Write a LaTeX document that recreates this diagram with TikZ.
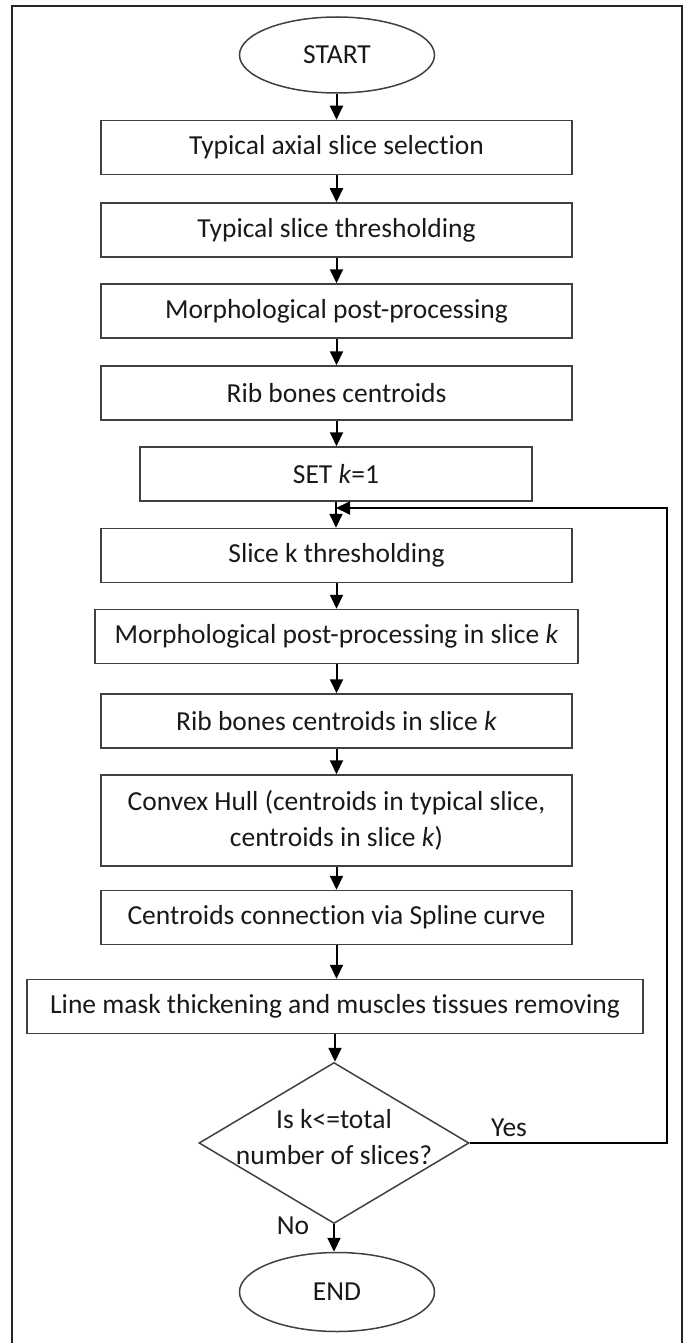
\documentclass[tikz,border=0pt]{standalone}
\usepackage{fontspec}
\setmainfont[RawFeature=-liga]{Carlito}
\usetikzlibrary{arrows.meta,shapes.geometric}
\begin{document}
\begin{tikzpicture}[x=1pt,y=-1pt,
  every node/.style={font=\fontsize{27.5}{36}\selectfont, text=black!90, align=center},
  proc/.style={draw=black!75, line width=1.5pt, rectangle, minimum height=54pt, inner sep=0pt},
  term/.style={draw=black!75, line width=1.5pt, ellipse, minimum width=195pt, minimum height=76pt, inner sep=0pt},
  decide/.style={draw=black!75, line width=1.5pt, diamond, minimum width=270pt, minimum height=161pt, inner sep=0pt},
  flow/.style={line width=2pt, -{Triangle[length=14pt,width=13pt]}},
  frameline/.style={line width=2.2pt, draw=black!85}
]
\useasboundingbox (0,0) rectangle (690,1343);
% outer frame (bottom edge lies outside the picture)
\draw[frameline] (12,1343) -- (12,6) -- (682,6) -- (682,1343);

\node[term] (start) at (337,55) {START};
\node[proc, minimum width=471pt] (b1) at (336.5,147.5) {Typical axial slice selection};
\node[proc, minimum width=471pt] (b2) at (336.5,230) {Typical slice thresholding};
\node[proc, minimum width=471pt] (b3) at (336.5,311) {Morphological post-processing};
\node[proc, minimum width=471pt] (b4) at (336.5,393) {Rib bones centroids};
\node[proc, minimum width=392pt] (set) at (336,474) {SET \textit{k}=1};
\node[proc, minimum width=471pt] (b5) at (336.5,555.5) {Slice k thresholding};
\node[proc, minimum width=483pt] (b6) at (336.5,636.5) {Morphological post-processing in slice \textit{k}};
\node[proc, minimum width=471pt] (b7) at (336.5,721) {Rib bones centroids in slice \textit{k}};
\node[proc, minimum width=471pt, minimum height=91pt] (b8) at (336.5,820.5) {Convex Hull (centroids in typical slice,\\centroids in slice \textit{k})};
\node[proc, minimum width=471pt] (b9) at (336.5,917.5) {Centroids connection via Spline curve};
\node[proc, minimum width=616pt] (b10) at (335,1006.5) {Line mask thickening and muscles tissues removing};
\node[decide] (dec) at (334,1143) {};
\node (dectext) at (334,1137) {Is k<=total\\number of slices?};
\node[term, minimum height=79pt] (end) at (337,1292) {END};

\node (yes) at (509,1128) {Yes};
\node (no) at (293,1226) {No};

\coordinate (loopr) at (667,1143);
\coordinate (loopt) at (667,508);
\coordinate (loopin) at (336,508);

\draw[flow] (start.south -| b1.north) -- (b1.north);
\draw[flow] (b1) -- (b2);
\draw[flow] (b2) -- (b3);
\draw[flow] (b3) -- (b4);
\draw[flow] (b4.south) -- (b4.south |- set.north);
\draw[flow] (set.south) -- (set.south |- b5.north);
\draw[flow] (b5) -- (b6);
\draw[flow] (b6) -- (b7);
\draw[flow] (b7) -- (b8);
\draw[flow] (b8) -- (b9);
\draw[flow] (b9.south) -- (b9.south |- b10.north);
\draw[flow] (b10.south) -- (b10.south |- dec.north);
\draw[flow] (dec.south) -- (dec.south |- end.north);
\draw[flow] (dec.east) -- (loopr) -- (loopt) -- (loopin);
\end{tikzpicture}
\end{document}
